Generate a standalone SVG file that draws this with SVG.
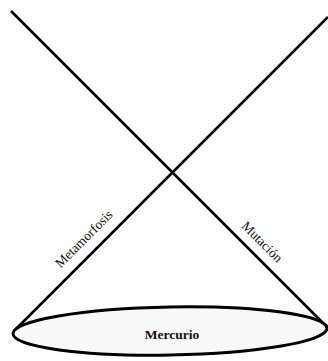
<svg xmlns="http://www.w3.org/2000/svg" width="328" height="361" viewBox="0 0 328 361">
<style>
.ln{stroke:#000;stroke-width:2.6;fill:none;stroke-linecap:butt}
.lbl{font-family:"Liberation Serif","DejaVu Serif",serif;font-size:13.5px;fill:#111;text-anchor:middle}
</style>
<rect width="328" height="361" fill="#fff"/>
<g id="connectors">
<line class="ln" x1="11" y1="11" x2="327" y2="327"/>
<line class="ln" x1="328" y1="17" x2="14" y2="331"/>
<text class="lbl" transform="translate(87,242) rotate(-45)">Metamorfosis</text>
<text class="lbl" transform="translate(259,245) rotate(45)">Mutación</text>
</g>
<g id="mercurio">
<ellipse cx="170" cy="331" rx="157" ry="24" transform="rotate(-1 170 331)" fill="#f8f8f8" stroke="#000" stroke-width="3"/>
<text class="lbl" x="172" y="339" font-weight="bold">Mercurio</text>
</g>
</svg>
